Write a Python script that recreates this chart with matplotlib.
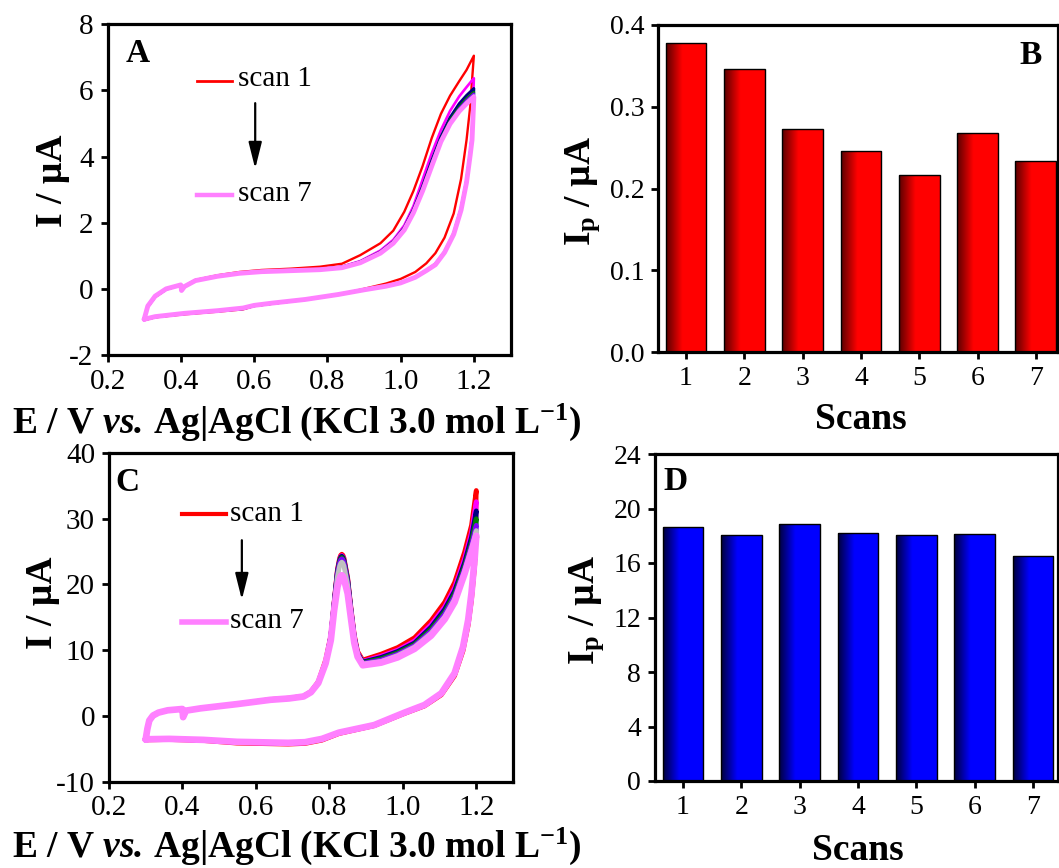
import numpy as np
import matplotlib
matplotlib.use("Agg")
import matplotlib.pyplot as plt
from matplotlib.colors import LinearSegmentedColormap
from matplotlib.lines import Line2D
from matplotlib.ticker import FormatStrFormatter, MultipleLocator

plt.rcParams["font.family"] = ["Liberation Serif", "DejaVu Serif"]
plt.rcParams["mathtext.fontset"] = "custom"
plt.rcParams["mathtext.rm"] = "Liberation Serif"
plt.rcParams["mathtext.it"] = "Liberation Serif:italic"
plt.rcParams["mathtext.bf"] = "Liberation Serif:bold"
plt.rcParams["mathtext.bfit"] = "Liberation Serif:bold:italic"
plt.rcParams["axes.unicode_minus"] = False

# ---------------- CV data, panel A (blank electrode) ----------------
# potentials of the anodic (forward) and cathodic (reverse) sweeps, V
e_a_fwd = [0.300, 0.310, 0.330, 0.360, 0.390, 0.400, 0.402, 0.410, 0.440, 0.500,
           0.560, 0.620, 0.700, 0.780, 0.840, 0.890, 0.945, 0.980, 1.010, 1.035,
           1.060, 1.085, 1.110, 1.135, 1.160, 1.180, 1.200]
e_a_rev = [1.200, 1.195, 1.190, 1.180, 1.165, 1.145, 1.120, 1.095, 1.070, 1.040,
           1.000, 0.960, 0.900, 0.830, 0.740, 0.650, 0.600, 0.570, 0.500, 0.410,
           0.330, 0.300]

# currents, uA
a_fwd_1 = [-0.95, -0.55, -0.25, -0.02, 0.08, 0.12, -0.05, 0.08, 0.27, 0.41, 0.51, 0.57, 0.61, 0.67,
           0.76, 1.02, 1.38, 1.76, 2.33, 2.96, 3.71, 4.56, 5.29, 5.84, 6.28, 6.62, 7.05]
a_fwd_2 = [-0.93, -0.53, -0.23, -0.01, 0.09, 0.12, -0.05, 0.07, 0.26, 0.39, 0.48, 0.53, 0.57, 0.60,
           0.67, 0.84, 1.16, 1.48, 1.92, 2.50, 3.30, 4.10, 4.80, 5.38, 5.82, 6.10, 6.37]
a_fwd_3 = [-0.93, -0.53, -0.23, -0.01, 0.09, 0.12, -0.05, 0.07, 0.25, 0.38, 0.47, 0.52, 0.56, 0.59,
           0.66, 0.82, 1.12, 1.43, 1.85, 2.40, 3.10, 3.88, 4.60, 5.18, 5.60, 5.85, 6.06]
a_fwd_4 = [-0.93, -0.53, -0.23, -0.01, 0.09, 0.12, -0.05, 0.07, 0.25, 0.38, 0.47, 0.52, 0.56, 0.59,
           0.65, 0.81, 1.10, 1.41, 1.82, 2.36, 3.04, 3.80, 4.52, 5.10, 5.50, 5.75, 5.95]
a_fwd_5 = [-0.93, -0.53, -0.23, -0.01, 0.09, 0.12, -0.05, 0.07, 0.25, 0.38, 0.47, 0.52, 0.55, 0.58,
           0.65, 0.80, 1.09, 1.40, 1.80, 2.33, 3.00, 3.76, 4.48, 5.05, 5.45, 5.70, 5.90]
a_fwd_6 = [-0.92, -0.52, -0.22, 0.00, 0.09, 0.12, -0.05, 0.07, 0.25, 0.38, 0.47, 0.52, 0.55, 0.58,
           0.64, 0.80, 1.08, 1.39, 1.79, 2.31, 2.98, 3.73, 4.46, 5.02, 5.40, 5.65, 5.85]
a_fwd_7 = [-0.92, -0.52, -0.22, 0.00, 0.09, 0.12, -0.05, 0.07, 0.25, 0.38, 0.47, 0.52, 0.55, 0.58,
           0.64, 0.79, 1.08, 1.38, 1.78, 2.30, 2.96, 3.71, 4.45, 4.99, 5.37, 5.60, 5.80]

a_rev_1 = [7.05, 6.30, 5.51, 4.50, 3.32, 2.28, 1.55, 1.08, 0.77, 0.51, 0.30, 0.16, 0.00, -0.18,
           -0.33, -0.45, -0.52, -0.62, -0.69, -0.77, -0.86, -0.95]
a_rev_2 = [6.37, 4.70, 4.15, 3.30, 2.45, 1.70, 1.13, 0.76, 0.56, 0.36, 0.19, 0.09, -0.02, -0.17,
           -0.32, -0.44, -0.51, -0.60, -0.67, -0.75, -0.85, -0.93]
a_rev_3 = [6.06, 4.60, 4.10, 3.26, 2.41, 1.67, 1.11, 0.74, 0.55, 0.35, 0.18, 0.08, -0.03, -0.17,
           -0.32, -0.44, -0.51, -0.60, -0.67, -0.75, -0.85, -0.93]
a_rev_4 = [5.95, 4.55, 4.08, 3.24, 2.40, 1.66, 1.10, 0.74, 0.55, 0.35, 0.18, 0.08, -0.03, -0.17,
           -0.32, -0.44, -0.51, -0.59, -0.67, -0.75, -0.85, -0.93]
a_rev_5 = [5.90, 4.52, 4.06, 3.23, 2.39, 1.65, 1.10, 0.73, 0.55, 0.35, 0.18, 0.08, -0.03, -0.17,
           -0.32, -0.43, -0.50, -0.58, -0.66, -0.74, -0.84, -0.92]
a_rev_6 = [5.85, 4.51, 4.05, 3.22, 2.38, 1.65, 1.10, 0.73, 0.55, 0.35, 0.18, 0.08, -0.03, -0.17,
           -0.32, -0.43, -0.50, -0.58, -0.66, -0.74, -0.84, -0.92]
a_rev_7 = [5.80, 4.50, 4.05, 3.22, 2.38, 1.65, 1.10, 0.73, 0.55, 0.35, 0.18, 0.08, -0.03, -0.17,
           -0.32, -0.43, -0.50, -0.58, -0.66, -0.74, -0.84, -0.92]

# ---------------- CV data, panel C (with analyte) ----------------
e_c_fwd = [0.300, 0.305, 0.310, 0.320, 0.335, 0.360, 0.390, 0.400, 0.402, 0.410,
           0.450, 0.550, 0.640, 0.690, 0.730, 0.750, 0.770, 0.790,
           0.804, 0.813, 0.822, 0.828, 0.831, 0.834, 0.837, 0.840, 0.850, 0.859,
           0.868, 0.877, 0.891,
           0.941, 0.986, 1.032, 1.077, 1.114, 1.141, 1.168, 1.187, 1.200]
e_c_rev = [1.200, 1.196, 1.187, 1.178, 1.164, 1.141, 1.105, 1.059, 1.004, 0.922,
           0.826, 0.780, 0.734, 0.688, 0.549, 0.457, 0.364, 0.309, 0.300]

# background part of the forward sweep (all scans overlap here)
c_base_1 = [-3.7, -2.0, -0.8, 0.0, 0.5, 0.85, 1.0, 1.05, -0.2, 0.8, 1.15, 1.8, 2.5, 2.7, 3.0, 3.7, 5.2, 8.5]
c_base = [-3.6, -1.9, -0.7, 0.05, 0.5, 0.85, 1.0, 1.05, -0.2, 0.8, 1.15, 1.8, 2.45, 2.65, 2.95, 3.6, 5.0, 8.0]

# oxidation peak around 0.83 V
c_peak_1 = [12.2, 17.3, 22.3, 24.0, 24.45, 24.6, 24.45, 24.0, 21.0, 16.4, 12.3, 9.8, 8.5]
c_peak_2 = [12.1, 17.2, 22.1, 23.8, 24.25, 24.4, 24.25, 23.8, 20.8, 16.2, 12.1, 9.6, 8.3]
c_peak_3 = [12.1, 17.1, 22.0, 23.7, 24.15, 24.3, 24.15, 23.7, 20.7, 16.1, 12.0, 9.5, 8.2]
c_peak_4 = [12.0, 17.0, 21.8, 23.5, 23.95, 24.1, 23.95, 23.5, 20.5, 16.0, 11.9, 9.4, 8.1]
c_peak_5 = [12.0, 16.9, 21.6, 23.3, 23.75, 23.9, 23.75, 23.3, 20.3, 15.8, 11.8, 9.3, 8.0]
c_peak_6 = [11.9, 16.7, 21.2, 22.8, 23.25, 23.4, 23.25, 22.8, 19.9, 15.5, 11.6, 9.2, 7.9]
c_peak_7 = [11.5, 16.0, 19.6, 20.8, 21.25, 21.4, 21.25, 20.8, 18.6, 14.8, 11.1, 9.0, 7.7]

# rising current towards 1.2 V
c_rise_1 = [9.4, 10.4, 11.9, 14.5, 17.3, 20.3, 24.9, 29.0, 34.3]
c_rise_2 = [9.1, 10.0, 11.4, 13.9, 16.6, 19.5, 23.9, 27.9, 32.6]
c_rise_3 = [8.9, 9.8, 11.1, 13.5, 16.2, 19.0, 23.3, 27.2, 31.2]
c_rise_4 = [8.7, 9.6, 10.9, 13.2, 15.8, 18.6, 22.8, 26.5, 30.0]
c_rise_5 = [8.5, 9.4, 10.7, 12.9, 15.5, 18.2, 22.4, 26.0, 29.0]
c_rise_6 = [8.3, 9.2, 10.5, 12.6, 15.1, 17.8, 22.0, 25.5, 28.2]
c_rise_7 = [8.1, 8.9, 10.2, 12.2, 14.7, 17.3, 21.6, 25.0, 27.4]

c_rev_1 = [34.3, 23.0, 17.6, 13.8, 9.9, 6.1, 3.2, 1.5, 0.35, -1.5, -2.7, -3.7, -4.2, -4.3, -4.15, -3.75, -3.6, -3.65, -3.7]
c_rev_2 = [32.6, 23.6, 18.2, 14.3, 10.3, 6.35, 3.35, 1.6, 0.43, -1.45, -2.6, -3.6, -4.1, -4.2, -4.05, -3.7, -3.55, -3.6, -3.65]
c_rev_3 = [31.2, 23.8, 18.4, 14.4, 10.4, 6.4, 3.4, 1.63, 0.45, -1.42, -2.58, -3.55, -4.05, -4.15, -4.0, -3.68, -3.52, -3.57, -3.62]
c_rev_4 = [30.0, 24.0, 18.5, 14.5, 10.45, 6.45, 3.42, 1.65, 0.47, -1.41, -2.56, -3.52, -4.02, -4.12, -3.97, -3.66, -3.51, -3.56, -3.61]
c_rev_5 = [29.0, 24.1, 18.6, 14.55, 10.5, 6.5, 3.44, 1.66, 0.48, -1.4, -2.55, -3.5, -4.0, -4.1, -3.95, -3.65, -3.5, -3.55, -3.6]
c_rev_6 = [28.2, 24.1, 18.6, 14.55, 10.5, 6.5, 3.44, 1.66, 0.48, -1.4, -2.55, -3.5, -4.0, -4.1, -3.95, -3.65, -3.5, -3.55, -3.6]
c_rev_7 = [27.4, 24.2, 18.65, 14.6, 10.5, 6.5, 3.44, 1.66, 0.48, -1.4, -2.55, -3.5, -4.0, -4.1, -3.95, -3.65, -3.5, -3.55, -3.6]

# ---------------- peak currents per scan ----------------
scans = [1, 2, 3, 4, 5, 6, 7]
ip_blank = [0.378, 0.346, 0.273, 0.246, 0.217, 0.268, 0.234]
ip_analyte = [18.64, 18.07, 18.88, 18.23, 18.07, 18.15, 16.49]

scan_colors = ["#ff0000", "#ff00ff", "#000080", "#008000", "#8000ff", "#c0c0c0", "#ff80ff"]

W, H = 1059, 868
fig = plt.figure(figsize=(W / 100, H / 100), dpi=100)


def px_axes(left, top, right, bottom):
    return fig.add_axes([left / W, 1 - bottom / H, (right - left) / W, (bottom - top) / H])


def style_axes(ax, size):
    for sp in ax.spines.values():
        sp.set_linewidth(2.3)
    ax.tick_params(direction="out", length=5, width=2.0, labelsize=size, pad=5,
                   top=False, right=False)


def cv_panel(ax, fwd_e, fwd_sets, rev_e, rev_sets, widths):
    for i in range(7):
        e = list(fwd_e) + list(rev_e)
        cur = list(fwd_sets[i]) + list(rev_sets[i])
        ax.plot(e, cur, color=scan_colors[i], lw=widths[i], solid_joinstyle="round",
                solid_capstyle="round", zorder=2 + i)


def cv_key(ax, x0, x1, y1, y7, tx, ty1, ty7, ax_x, ay0, ay1, lw1, lw7):
    ax.add_line(Line2D([x0, x1], [y1, y1], color=scan_colors[0], lw=lw1, transform=ax.transAxes))
    ax.add_line(Line2D([x0, x1], [y7, y7], color=scan_colors[6], lw=lw7, transform=ax.transAxes))
    ax.text(tx, ty1, "scan 1", transform=ax.transAxes, fontsize=21, va="baseline")
    ax.text(tx, ty7, "scan 7", transform=ax.transAxes, fontsize=21, va="baseline")
    ax.annotate("", xy=(ax_x, ay1), xytext=(ax_x, ay0), xycoords="axes fraction",
                arrowprops=dict(arrowstyle="-|>,head_length=0.8,head_width=0.2",
                                mutation_scale=20, color="black", lw=1.6))


xlabel_cv = r"E / V $\mathbfit{vs.}\,$Ag|AgCl (KCl 3.0 mol L$^{\mathbf{-1}}$)"

# ---- A ----
ax_a = px_axes(107.5, 24.3, 510.5, 355)
cv_panel(ax_a, e_a_fwd, [a_fwd_1, a_fwd_2, a_fwd_3, a_fwd_4, a_fwd_5, a_fwd_6, a_fwd_7],
         e_a_rev, [a_rev_1, a_rev_2, a_rev_3, a_rev_4, a_rev_5, a_rev_6, a_rev_7],
         [1.7, 1.9, 2.1, 1.9, 1.9, 1.9, 3.5])
ax_a.set_xlim(0.2, 1.3)
ax_a.set_ylim(-2, 8)
ax_a.set_xticks([0.2, 0.4, 0.6, 0.8, 1.0, 1.2])
ax_a.xaxis.set_major_formatter(FormatStrFormatter("%.1f"))
ax_a.yaxis.set_major_locator(MultipleLocator(2))
style_axes(ax_a, 21)
ax_a.text(0.046, 0.885, "A", transform=ax_a.transAxes, fontsize=24, fontweight="bold")
cv_key(ax_a, 0.222, 0.310, 0.828, 0.483, 0.323, 0.813, 0.466, 0.3665, 0.770, 0.555, 2.0, 3.2)
fig.text(12 / W, 1 - 433 / H, xlabel_cv, fontsize=27, fontweight="bold", ha="left", va="baseline")
fig.text(52 / W, 1 - 181 / H, "I / µA", fontsize=27, fontweight="bold", rotation=90,
         ha="center", va="center")

# ---- C ----
c_fwd = [c_base_1 + c_peak_1 + c_rise_1, c_base + c_peak_2 + c_rise_2, c_base + c_peak_3 + c_rise_3,
         c_base + c_peak_4 + c_rise_4, c_base + c_peak_5 + c_rise_5, c_base + c_peak_6 + c_rise_6,
         c_base + c_peak_7 + c_rise_7]
ax_c = px_axes(108.9, 453, 513, 781.6)
cv_panel(ax_c, e_c_fwd, c_fwd, e_c_rev,
         [c_rev_1, c_rev_2, c_rev_3, c_rev_4, c_rev_5, c_rev_6, c_rev_7],
         [3.4, 3.4, 3.4, 3.4, 3.4, 3.4, 4.8])
ax_c.set_xlim(0.2, 1.3)
ax_c.set_ylim(-10, 40)
ax_c.set_xticks([0.2, 0.4, 0.6, 0.8, 1.0, 1.2])
ax_c.xaxis.set_major_formatter(FormatStrFormatter("%.1f"))
ax_c.yaxis.set_major_locator(MultipleLocator(10))
style_axes(ax_c, 21)
ax_c.text(0.015, 0.885, "C", transform=ax_c.transAxes, fontsize=24, fontweight="bold")
cv_key(ax_c, 0.182, 0.291, 0.815, 0.486, 0.299, 0.792, 0.468, 0.329, 0.743, 0.545, 3.0, 4.0)
fig.text(12 / W, 1 - 857 / H, xlabel_cv, fontsize=27, fontweight="bold", ha="left", va="baseline")
fig.text(42 / W, 1 - 603 / H, "I / µA", fontsize=27, fontweight="bold", rotation=90,
         ha="center", va="center")


# ---- bar panels ----
def gradient_bars(ax, values, dark, bright):
    cmap = LinearSegmentedColormap.from_list("bar", [(0, dark), (0.4, bright), (1, bright)])
    grad = np.linspace(0, 1, 256).reshape(1, -1)
    bars = ax.bar(scans, values, width=0.7, facecolor="none", edgecolor="black", lw=1.0, zorder=3)
    for rect in bars:
        x0, w, h = rect.get_x(), rect.get_width(), rect.get_height()
        im = ax.imshow(grad, extent=[x0, x0 + w, 0, h], aspect="auto", cmap=cmap,
                       interpolation="bilinear", zorder=2)
        im.set_clip_path(rect)


ax_b = px_axes(658.3, 25, 1058, 352)
gradient_bars(ax_b, ip_blank, "#5a0000", "#ff0000")
ax_b.set_xlim(0.525, 7.38)
ax_b.set_ylim(0, 0.4)
ax_b.set_xticks(scans)
ax_b.yaxis.set_major_locator(MultipleLocator(0.1))
ax_b.yaxis.set_major_formatter(FormatStrFormatter("%.1f"))
style_axes(ax_b, 20)
ax_b.text(0.959, 0.882, "B", transform=ax_b.transAxes, fontsize=24, fontweight="bold", ha="right")
fig.text(861 / W, 1 - 429 / H, "Scans", fontsize=27, fontweight="bold", ha="center", va="baseline")
fig.text(583 / W, 1 - 191 / H, r"$\mathbf{I_p}$ / µA", fontsize=27, fontweight="bold",
         rotation=90, ha="center", va="center")

ax_d = px_axes(655, 454, 1058, 781)
gradient_bars(ax_d, ip_analyte, "#00003c", "#0000ff")
ax_d.set_xlim(0.52, 7.43)
ax_d.set_ylim(0, 24)
ax_d.set_xticks(scans)
ax_d.yaxis.set_major_locator(MultipleLocator(4))
style_axes(ax_d, 20)
ax_d.text(0.02, 0.89, "D", transform=ax_d.transAxes, fontsize=24, fontweight="bold")
fig.text(858 / W, 1 - 860 / H, "Scans", fontsize=27, fontweight="bold", ha="center", va="baseline")
fig.text(587 / W, 1 - 610 / H, r"$\mathbf{I_p}$ / µA", fontsize=27, fontweight="bold",
         rotation=90, ha="center", va="center")

fig.savefig("out.png", dpi=100)
